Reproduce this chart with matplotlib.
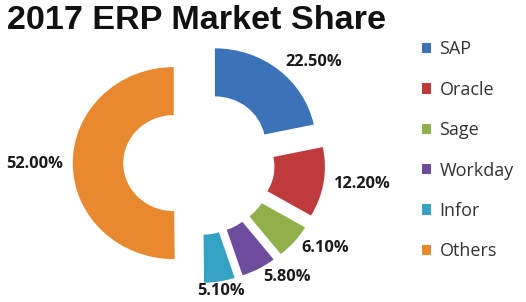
import matplotlib
matplotlib.use("Agg")
import matplotlib.pyplot as plt

# ---- data ----
categories = ["SAP", "Oracle", "Sage", "Workday", "Infor", "Others"]
shares = [22.5, 12.2, 6.1, 5.8, 5.1, 52.0]
label_texts = ["22.50%", "12.20%", "6.10%", "5.80%", "5.10%", "52.00%"]
title = "2017 ERP Market Share"

colors = ["#3c72b8", "#bf3a3c", "#8fb04a", "#6e4c9c", "#35a2c4", "#e8882f"]

W, H = 526, 302
fig = plt.figure(figsize=(W / 100, H / 100), dpi=100)
fig.patch.set_facecolor("white")
ax = fig.add_axes([0, 0, 1, 1])

wedges, texts = ax.pie(
    shares,
    colors=colors,
    startangle=90,
    counterclock=False,
    explode=[0.25] * len(shares),
    labels=label_texts,
    labeldistance=1.1,
    wedgeprops=dict(width=0.5, linewidth=0),
    textprops=dict(fontfamily="Open Sans", fontweight="bold", fontsize=11.8, color="#1a1a1a"),
)
texts[4].set_ha("center")

# map data so that pie centre sits at (199,163) px with x-unit 101 px, y-unit 96 px
cx, cy, ux, uy = 199, 302 - 163, 101, 96
ax.set_aspect("auto")
ax.set_xlim(-cx / ux, (W - cx) / ux)
ax.set_ylim(-cy / uy, (H - cy) / uy)
ax.axis("off")

fig.text(0.014, 0.985, title, fontfamily="Liberation Sans", fontweight="bold",
         fontsize=24.6, ha="left", va="top", color="#111111")

fig.legend(wedges, categories, loc="upper left", bbox_to_anchor=(0.772, 0.92),
           frameon=False, handlelength=0.5, handleheight=0.5, handletextpad=0.45,
           labelspacing=1.24,
           prop=dict(family="Open Sans", size=13), labelcolor="#333333")

fig.savefig("out.png", dpi=100, facecolor="white")
